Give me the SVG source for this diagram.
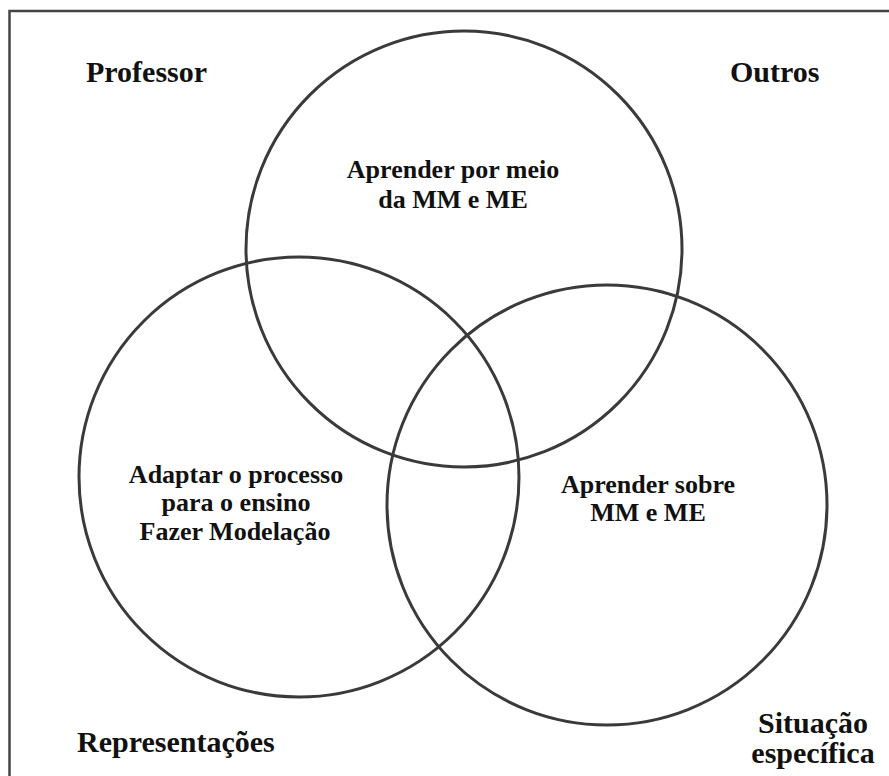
<svg xmlns="http://www.w3.org/2000/svg" width="889" height="776" viewBox="0 0 889 776">
<style>
.frame{fill:none;stroke:#444;stroke-width:2.5}
.set{fill:none;stroke:#3a3a3a;stroke-width:3}
text{font-family:'Liberation Serif',serif;font-weight:bold;fill:#111}
.outer{font-size:30px}
.inner{font-size:26px;text-anchor:middle}
</style>
<rect width="889" height="776" fill="#fff"/>
<rect class="frame" x="9.5" y="11" width="900" height="800"/>
<g id="circle-top">
<circle class="set" cx="464" cy="249" r="218"/>
<text class="inner" font-family="Liberation Serif" x="453" y="178">Aprender por meio</text>
<text class="inner" font-family="Liberation Serif" x="453" y="208">da MM e ME</text>
</g>
<g id="circle-left">
<circle class="set" cx="299" cy="477" r="220"/>
<text class="inner" font-family="Liberation Serif" x="236" y="483">Adaptar o processo</text>
<text class="inner" font-family="Liberation Serif" x="236" y="511">para o ensino</text>
<text class="inner" font-family="Liberation Serif" x="235" y="540">Fazer Modelação</text>
</g>
<g id="circle-right">
<circle class="set" cx="607" cy="505" r="220"/>
<text class="inner" font-family="Liberation Serif" x="648" y="493">Aprender sobre</text>
<text class="inner" font-family="Liberation Serif" x="648" y="521">MM e ME</text>
</g>
<g id="label-professor"><text class="outer" font-family="Liberation Serif" x="86" y="82">Professor</text></g>
<g id="label-outros"><text class="outer" font-family="Liberation Serif" x="730" y="82">Outros</text></g>
<g id="label-representacoes"><text class="outer" font-family="Liberation Serif" x="77" y="752">Representações</text></g>
<g id="label-situacao"><text class="outer" font-family="Liberation Serif" text-anchor="middle" x="813" y="733">Situação</text><text class="outer" font-family="Liberation Serif" text-anchor="middle" x="813" y="763">específica</text></g>
</svg>
